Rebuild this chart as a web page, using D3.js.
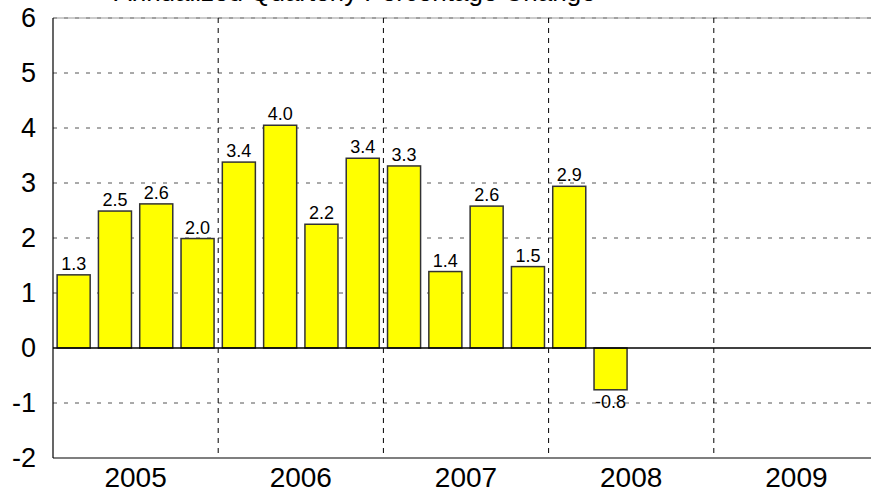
<!DOCTYPE html>
<html><head><meta charset="utf-8">
<script src="https://cdn.jsdelivr.net/npm/d3@7"></script>
<style>body{margin:0;background:#fff}svg{display:block}text{font-family:"Liberation Sans",Arial,sans-serif;fill:#000}</style>
</head><body><svg id="c" width="871" height="492"></svg>
<script>
const title = "Annualized Quarterly Percentage Change";
const years = ["2005","2006","2007","2008","2009"];
const quarters = ["Q1","Q2","Q3","Q4"];
const values = [1.33, 2.49, 2.62, 1.99, 3.38, 4.05, 2.25, 3.45, 3.31, 1.39, 2.58, 1.48, 2.94, -0.76];
const labels = ["1.3","2.5","2.6","2.0","3.4","4.0","2.2","3.4","3.3","1.4","2.6","1.5","2.9","-0.8"];
const yTicks = [-2,-1,0,1,2,3,4,5,6];

const svg = d3.select("#c");
const L = 53, R = 879, T = 18, B = 458;
const slots = years.flatMap(y => quarters.map(q => y + q));
const x = d3.scaleBand().domain(slots).range([L, R]).paddingInner(0.2).paddingOuter(0.1);
const xYear = d3.scaleBand().domain(years).range([L, R]);
const y = d3.scaleLinear().domain([-2, 6]).range([B, T]);

// title (clipped at top, as in the original)
svg.append("text").attr("x", 355).attr("y", 1).attr("text-anchor", "middle")
  .attr("font-size", 26).text(title);

// horizontal grid
svg.append("g").selectAll("line").data(yTicks.filter(d => d !== 0 && d !== -2)).join("line")
  .attr("x1", L).attr("x2", R).attr("y1", d => y(d)).attr("y2", d => y(d))
  .attr("stroke", "#555").attr("stroke-width", 1).attr("stroke-dasharray", "4,7");
// top border
svg.append("line").attr("x1", L).attr("x2", R).attr("y1", y(6)).attr("y2", y(6))
  .attr("stroke", "#999").attr("stroke-width", 1);

// vertical year separators
svg.append("g").selectAll("line").data(years.slice(1)).join("line")
  .attr("x1", d => xYear(d)).attr("x2", d => xYear(d)).attr("y1", T).attr("y2", B)
  .attr("stroke", "#000").attr("stroke-width", 1).attr("stroke-dasharray", "5,5");

// bars
const data = values.map((v, i) => ({k: slots[i], v, lab: labels[i]}));
svg.append("g").selectAll("rect").data(data).join("rect")
  .attr("x", d => x(d.k)).attr("width", x.bandwidth())
  .attr("y", d => y(Math.max(0, d.v))).attr("height", d => Math.abs(y(d.v) - y(0)))
  .attr("fill", "#ffff00").attr("stroke", "#333").attr("stroke-width", 1.5);

// value labels
svg.append("g").selectAll("text").data(data).join("text")
  .attr("x", d => x(d.k) + x.bandwidth() / 2)
  .attr("y", d => d.v >= 0 ? y(d.v) - 5 : y(d.v) + 18)
  .attr("text-anchor", "middle").attr("font-size", 18).text(d => d.lab);

// zero line, axes
svg.append("line").attr("x1", L).attr("x2", R).attr("y1", y(0)).attr("y2", y(0))
  .attr("stroke", "#000").attr("stroke-width", 1.5);
svg.append("line").attr("x1", L).attr("x2", L).attr("y1", T).attr("y2", B)
  .attr("stroke", "#000").attr("stroke-width", 1.2);
svg.append("line").attr("x1", L).attr("x2", R).attr("y1", B).attr("y2", B)
  .attr("stroke", "#000").attr("stroke-width", 1.2);

// y tick labels
svg.append("g").selectAll("text").data(yTicks).join("text")
  .attr("x", 36).attr("y", d => y(d)).attr("dy", "0.35em")
  .attr("text-anchor", "end").attr("font-size", 27).text(d => d);

// year labels
svg.append("g").selectAll("text").data(years).join("text")
  .attr("x", d => xYear(d) + xYear.bandwidth() / 2).attr("y", 487)
  .attr("text-anchor", "middle").attr("font-size", 28).text(d => d);
</script></body></html>
